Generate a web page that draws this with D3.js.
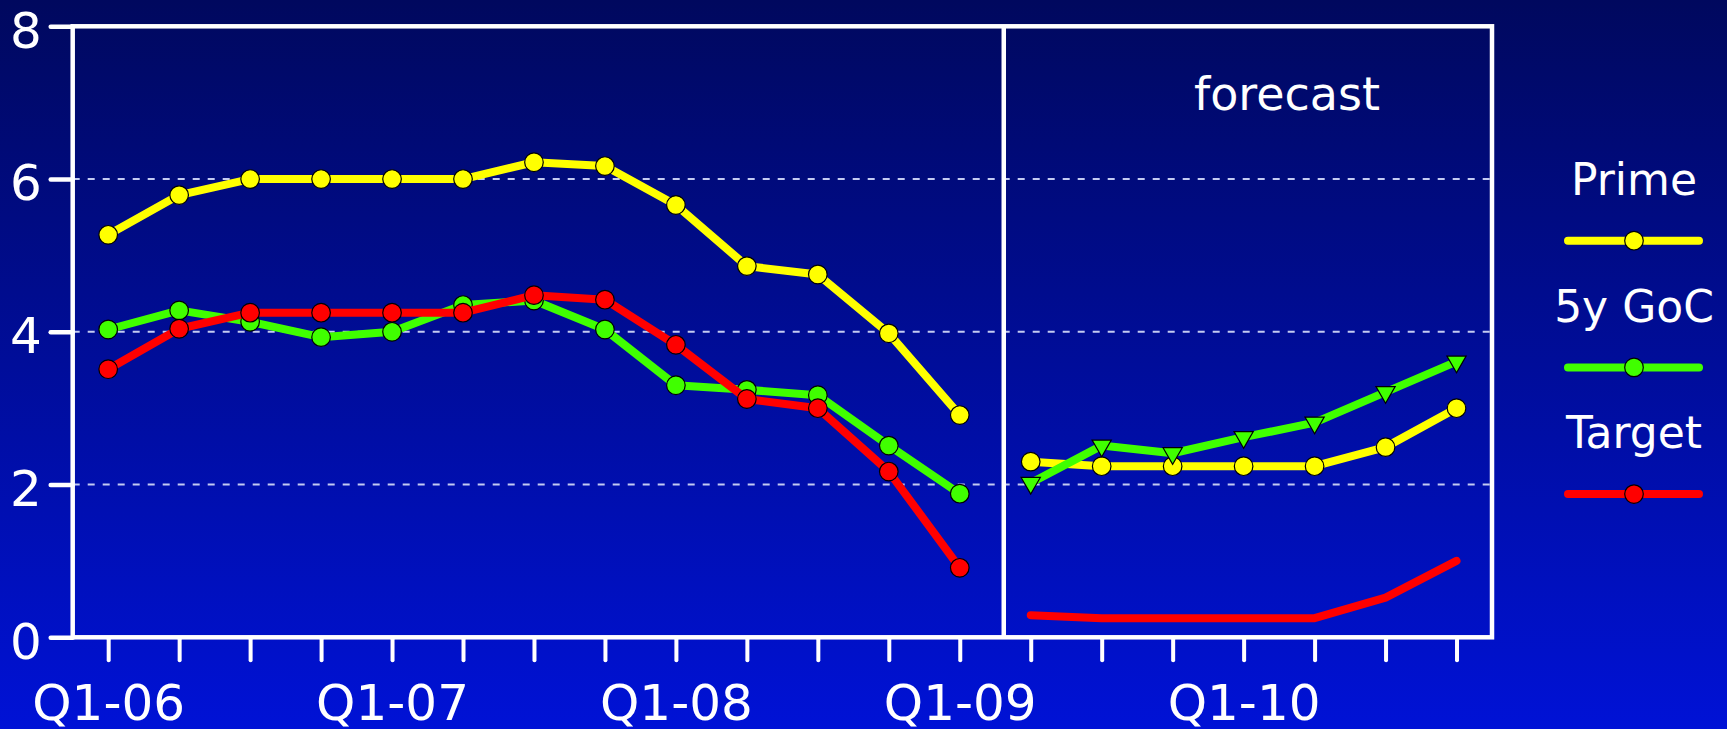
<!DOCTYPE html>
<html lang="en">

<head>
	<meta charset="UTF-8" />
	<title>Prime, 5y GoC and Target rates</title>
	<script src="https://cdn.jsdelivr.net/npm/d3@7"></script>
	<style>
		body { margin: 0; }
		svg text { font-family: "DejaVu Sans", sans-serif; fill: white; }
	</style>
</head>

<body>
	<svg id="vis" width="1727" height="729"></svg>

	<script>
		// Quarters Q1-06 .. Q4-10
		var quarters = [];
		["06", "07", "08", "09", "10"].forEach(function (yy) {
			for (var q = 1; q <= 4; q++) quarters.push("Q" + q + "-" + yy);
		});
		var histQuarters = quarters.slice(0, 13);   // Q1-06 .. Q1-09
		var fcstQuarters = quarters.slice(13);      // Q2-09 .. Q4-10

		var yTicks = [0, 2, 4, 6, 8];
		var gridValues = [2, 4, 6];

		// historical values
		var primeHist = [5.27, 5.79, 6.0, 6.0, 6.0, 6.0, 6.22, 6.17, 5.66, 4.86, 4.75, 3.98, 2.91];
		var gocHist = [4.03, 4.28, 4.13, 3.93, 4.0, 4.35, 4.41, 4.03, 3.3, 3.24, 3.17, 2.51, 1.88];
		var targetHist = [3.51, 4.04, 4.25, 4.25, 4.25, 4.25, 4.48, 4.42, 3.83, 3.12, 3.0, 2.17, 0.91];

		// forecast values
		var primeFcst = [2.3, 2.24, 2.24, 2.24, 2.24, 2.49, 3.0];
		var gocFcst = [2.02, 2.51, 2.41, 2.62, 2.81, 3.21, 3.61];
		var targetFcst = [0.29, 0.25, 0.25, 0.25, 0.25, 0.52, 1.0];

		var seriesNames = ["Prime", "5y GoC", "Target"];
		var colors = ["#ffff00", "#40ff00", "#ff0000"];

		var svg = d3.select("#vis");

		// fond en dégradé
		var grad = svg.append("defs").append("linearGradient")
			.attr("id", "bg").attr("x1", 0).attr("y1", 0).attr("x2", 0).attr("y2", 1);
		grad.append("stop").attr("offset", "0%").attr("stop-color", "#00085e");
		grad.append("stop").attr("offset", "100%").attr("stop-color", "#0012d6");
		svg.append("rect").attr("width", 1727).attr("height", 729).attr("fill", "url(#bg)");

		var plotLeft = 72.7, plotRight = 1492, plotTop = 26.3, plotBottom = 637.3;

		var x = d3.scalePoint().domain(quarters).range([plotLeft, plotRight]).padding(0.5);
		var y = d3.scaleLinear().domain([0, 8]).range([plotBottom, plotTop]);

		// grille pointillée
		svg.append("g").selectAll("line").data(gridValues).join("line")
			.attr("x1", plotLeft).attr("x2", plotRight)
			.attr("y1", function (d) { return y(d); })
			.attr("y2", function (d) { return y(d); })
			.attr("stroke", "#c4cbf2").attr("stroke-width", 2)
			.attr("stroke-dasharray", "7,8");

		// cadre
		svg.append("rect")
			.attr("x", plotLeft).attr("y", plotTop)
			.attr("width", plotRight - plotLeft).attr("height", plotBottom - plotTop)
			.attr("fill", "none").attr("stroke", "white").attr("stroke-width", 4.5);

		// séparation historique / prévision
		var divX = x(histQuarters[histQuarters.length - 1]) + x.step() * 0.62;
		svg.append("line")
			.attr("x1", divX).attr("x2", divX).attr("y1", plotTop).attr("y2", plotBottom)
			.attr("stroke", "white").attr("stroke-width", 4.5);

		// axe Y
		var gy = svg.append("g").attr("transform", "translate(" + plotLeft + ",0)")
			.call(d3.axisLeft(y).tickValues(yTicks).tickSize(22).tickPadding(9).tickFormat(d3.format("d")));
		gy.select(".domain").remove();
		gy.selectAll("line").attr("stroke", "white").attr("stroke-width", 4.5).attr("stroke-linecap", "round");
		gy.selectAll("text").attr("font-size", 50).attr("dy", "0.414em").attr("fill", "white");

		// axe X
		var gx = svg.append("g").attr("transform", "translate(0," + plotBottom + ")")
			.call(d3.axisBottom(x).tickSize(23).tickFormat(function (d) {
				return d.indexOf("Q1") === 0 ? d : "";
			}));
		gx.select(".domain").remove();
		gx.selectAll("line").attr("stroke", "white").attr("stroke-width", 4)
			.attr("y1", 2).attr("stroke-linecap", "round");
		gx.selectAll("text").attr("font-size", 50).attr("y", 82.7).attr("dy", 0).attr("fill", "white");

		var line = d3.line()
			.x(function (d) { return x(d.q); })
			.y(function (d) { return y(d.v); });

		function zipData(qs, vals) {
			return vals.map(function (v, i) { return { q: qs[i], v: v }; });
		}

		var hist = [primeHist, gocHist, targetHist];
		var fcst = [primeFcst, gocFcst, targetFcst];
		var fcstMarker = ["circle", "triangle", "none"];

		var gLignes = svg.append("g");
		for (var s = 0; s < 3; s++) {
			var hData = zipData(histQuarters, hist[s]);
			var fData = zipData(fcstQuarters, fcst[s]);

			gLignes.append("path")
				.attr("d", line(hData))
				.attr("fill", "none").attr("stroke", colors[s])
				.attr("stroke-width", 8).attr("stroke-linejoin", "round").attr("stroke-linecap", "round");
			gLignes.append("g").selectAll("circle").data(hData).join("circle")
				.attr("cx", function (d) { return x(d.q); })
				.attr("cy", function (d) { return y(d.v); })
				.attr("r", 9.3).attr("fill", colors[s])
				.attr("stroke", "black").attr("stroke-width", 1.2);

			gLignes.append("path")
				.attr("d", line(fData))
				.attr("fill", "none").attr("stroke", colors[s])
				.attr("stroke-width", 8).attr("stroke-linejoin", "round").attr("stroke-linecap", "round");

			if (fcstMarker[s] === "circle") {
				gLignes.append("g").selectAll("circle").data(fData).join("circle")
					.attr("cx", function (d) { return x(d.q); })
					.attr("cy", function (d) { return y(d.v); })
					.attr("r", 9.3).attr("fill", colors[s])
					.attr("stroke", "black").attr("stroke-width", 1.2);
			} else if (fcstMarker[s] === "triangle") {
				var tri = d3.symbol(d3.symbolTriangle, 160);
				gLignes.append("g").selectAll("path").data(fData).join("path")
					.attr("d", tri)
					.attr("transform", function (d) { return "translate(" + x(d.q) + "," + y(d.v) + ") rotate(180)"; })
					.attr("fill", colors[s])
					.attr("stroke", "black").attr("stroke-width", 1.2);
			}
		}

		// texte "forecast"
		svg.append("text")
			.attr("x", 1287).attr("y", 110)
			.attr("text-anchor", "middle").attr("font-size", 46)
			.text("forecast");

		// légende
		var legendX = 1634;
		var legend = svg.append("g").selectAll("g").data(seriesNames).join("g")
			.attr("transform", function (d, i) { return "translate(" + legendX + "," + (195 + i * 126.7) + ")"; });
		legend.append("text")
			.attr("text-anchor", "middle").attr("font-size", 44)
			.text(function (d) { return d; });
		legend.append("line")
			.attr("x1", -66).attr("x2", 65).attr("y1", 45.7).attr("y2", 45.7)
			.attr("stroke", function (d, i) { return colors[i]; })
			.attr("stroke-width", 8).attr("stroke-linecap", "round");
		legend.append("circle")
			.attr("cx", 0).attr("cy", 45.7).attr("r", 9.3)
			.attr("fill", function (d, i) { return colors[i]; })
			.attr("stroke", "black").attr("stroke-width", 1.2);
	</script>
</body>

</html>
